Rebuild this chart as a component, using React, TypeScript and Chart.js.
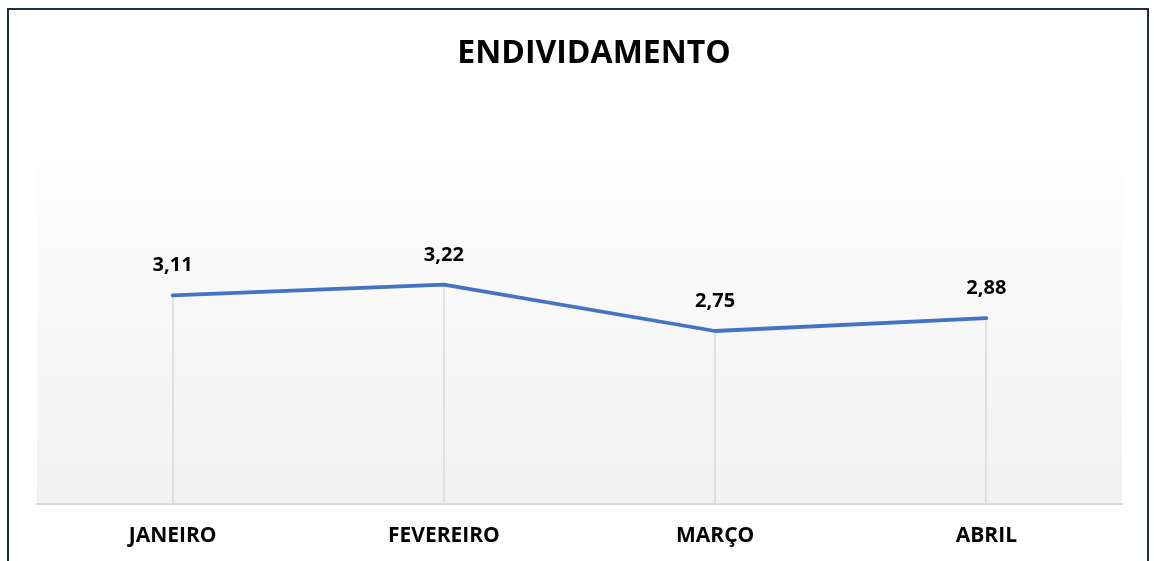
import React, { useEffect, useRef } from "react";
import { Chart, registerables } from "chart.js";

Chart.register(...registerables);

const TITLE = "ENDIVIDAMENTO";
const categories = ["JANEIRO", "FEVEREIRO", "MARÇO", "ABRIL"];
const values = [3.11, 3.22, 2.75, 2.88];
const Y_MIN = 1;
const Y_MAX = 4.5;

const FONT = "'Open Sans', 'DejaVu Sans', sans-serif";
const W = 1154;
const H = 561;

const fmt = (v: number) => v.toFixed(2).replace(".", ",");

const backgroundPlugin = {
  id: "plotBg",
  beforeDraw(chart: any) {
    const { ctx, chartArea } = chart;
    if (!chartArea) return;
    const g = ctx.createLinearGradient(0, chartArea.top, 0, chartArea.bottom);
    g.addColorStop(0, "#fefefe");
    g.addColorStop(1, "#f1f1f1");
    ctx.save();
    ctx.fillStyle = g;
    ctx.fillRect(chartArea.left, chartArea.top, chartArea.right - chartArea.left, chartArea.bottom - chartArea.top);
    ctx.restore();
  },
};

const dropLinePlugin = {
  id: "dropLines",
  beforeDatasetsDraw(chart: any) {
    const { ctx, chartArea } = chart;
    const meta = chart.getDatasetMeta(0);
    ctx.save();
    ctx.strokeStyle = "#d9d9d9";
    ctx.lineWidth = 1.5;
    meta.data.forEach((pt: any) => {
      ctx.beginPath();
      ctx.moveTo(Math.round(pt.x), pt.y);
      ctx.lineTo(Math.round(pt.x), chartArea.bottom);
      ctx.stroke();
    });
    ctx.restore();
  },
};

const valueLabelPlugin = {
  id: "valueLabels",
  afterDatasetsDraw(chart: any) {
    const { ctx } = chart;
    const meta = chart.getDatasetMeta(0);
    const data = chart.data.datasets[0].data as number[];
    ctx.save();
    ctx.font = `bold 20px ${FONT}`;
    ctx.fillStyle = "#000000";
    ctx.textAlign = "center";
    ctx.textBaseline = "alphabetic";
    meta.data.forEach((pt: any, i: number) => {
      ctx.fillText(fmt(data[i]), pt.x, pt.y - 24);
    });
    ctx.restore();
  },
};

const titlePlugin = {
  id: "customTitle",
  afterDraw(chart: any) {
    const { ctx } = chart;
    ctx.save();
    ctx.font = `bold 32px ${FONT}`;
    ctx.fillStyle = "#000000";
    ctx.textAlign = "center";
    ctx.textBaseline = "alphabetic";
    ctx.fillText(TITLE, 594, 63);
    ctx.restore();
  },
};

export default function App() {
  const canvasRef = useRef<HTMLCanvasElement | null>(null);

  useEffect(() => {
    const canvas = canvasRef.current;
    if (!canvas) return;
    const chart = new Chart(canvas, {
      type: "line",
      data: {
        labels: categories,
        datasets: [
          {
            data: values,
            borderColor: "#4472C4",
            borderWidth: 3.8,
            borderCapStyle: "round",
            borderJoinStyle: "round",
            pointRadius: 0,
            pointHoverRadius: 0,
            tension: 0,
            fill: false,
          },
        ],
      },
      options: {
        responsive: false,
        animation: false,
        devicePixelRatio: 1,
        layout: { padding: { left: 37, right: 32, top: 158, bottom: 0 } },
        plugins: {
          legend: { display: false },
          title: { display: false },
          tooltip: { enabled: false },
        },
        events: [],
        scales: {
          x: {
            type: "category",
            offset: true,
            grid: { display: false, drawTicks: false },
            border: { display: true, color: "#d9d9d9", width: 2 },
            ticks: {
              color: "#000000",
              font: { family: FONT, size: 21, weight: "bold" },
              padding: 19,
              maxRotation: 0,
              autoSkip: false,
            },
            afterFit: (scale: any) => {
              scale.height = 57;
            },
          },
          y: {
            display: false,
            min: Y_MIN,
            max: Y_MAX,
          },
        },
      },
      plugins: [backgroundPlugin, dropLinePlugin, valueLabelPlugin, titlePlugin],
    } as any);
    return () => chart.destroy();
  }, []);

  return (
    <div style={{ position: "fixed", left: 0, top: 0, width: W, height: H, overflow: "hidden", background: "#ffffff" }}>
      <div
        style={{
          position: "absolute",
          left: 7,
          top: 8,
          width: 1142,
          height: 700,
          boxSizing: "border-box",
          border: "2px solid #1f2d40",
        }}
      />
      <canvas
        ref={canvasRef}
        width={W}
        height={H}
        style={{ position: "absolute", left: 0, top: 0, width: W, height: H }}
      />
    </div>
  );
}
